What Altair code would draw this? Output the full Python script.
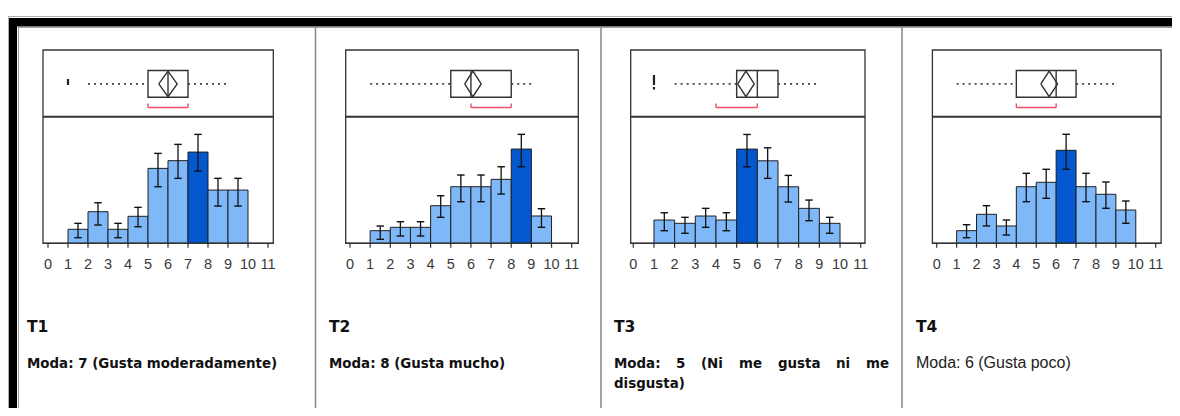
import altair as alt
import pandas as pd

# ---------------- data ----------------
scores = [1, 2, 3, 4, 5, 6, 7, 8, 9]          # histogram bins [k, k+1)
tick_values = list(range(0, 12))

t1_pct = [3.17, 7.15, 3.17, 6.11, 16.96, 18.70, 20.65, 12.05, 12.05]
t1_lo = [1.27, 4.14, 1.27, 3.75, 12.80, 14.70, 16.35, 8.43, 8.43]
t1_hi = [4.52, 9.18, 4.52, 8.14, 20.35, 22.39, 24.65, 14.70, 14.70]

t2_pct = [3.31, 4.20, 4.20, 9.87, 14.86, 14.86, 16.80, 24.75, 7.17]
t2_lo = [1.05, 1.92, 1.92, 6.82, 10.92, 10.92, 12.94, 20.10, 4.20]
t2_hi = [4.54, 5.67, 5.67, 12.49, 17.93, 17.93, 20.10, 28.61, 9.08]

t3_pct = [6.09, 5.23, 7.14, 6.09, 24.66, 21.60, 14.80, 9.15, 5.23]
t3_lo = [3.29, 2.62, 4.18, 3.29, 20.03, 17.00, 10.80, 5.91, 2.62]
t3_hi = [8.00, 6.80, 9.15, 8.00, 28.50, 25.00, 17.78, 11.32, 6.80]

t4_pct = [3.09, 7.10, 4.24, 13.86, 14.94, 22.77, 13.86, 12.00, 8.15]
t4_lo = [1.37, 4.24, 2.03, 10.19, 11.02, 18.12, 10.19, 8.57, 4.90]
t4_hi = [4.55, 9.21, 5.71, 17.14, 18.12, 26.69, 17.14, 15.01, 10.36]

y_max = [28.7, 33.3, 33.2, 31.05]            # per-panel histogram scale top

modes = [7, 8, 5, 6]
q1 = [5, 5, 5, 4]
median = [6, 6, 6, 6]
q3 = [7, 8, 7, 7]
mean = [6.0, 6.1, 5.45, 5.65]
mean_ci = [0.46, 0.41, 0.40, 0.42]
whisker_lo = [2, 1, 2, 1]
whisker_hi = [9, 9, 9, 9]
outlier_value = [1, None, 1, None]
outlier_ties = [1, 0, 2, 0]
shortest_lo = [5, 6, 4, 4]
shortest_hi = [7, 8, 6, 6]

titles = ["T1", "T2", "T3", "T4"]
moda_texts = ["Moda: 7 (Gusta moderadamente)", "Moda: 8 (Gusta mucho)", None, "Moda: 6 (Gusta poco)"]
t3_words = ["Moda:", "5", "(Ni", "me", "gusta", "ni", "me"]
t3_line2 = "disgusta)"

pct = [t1_pct, t2_pct, t3_pct, t4_pct]
lo = [t1_lo, t2_lo, t3_lo, t4_lo]
hi = [t1_hi, t2_hi, t3_hi, t4_hi]

# ---------------- layout (reference pixels) ----------------
OX, OY = 8, 8
X0 = [48, 350, 633.3, 936.7]
X11 = [268, 571.7, 860.7, 1155.7]
FL = [43, 345.7, 630.7, 932.4]
FR = [273.3, 578.3, 865, 1161.1]
Y_FTOP, Y_DIV, Y_BASE = 50, 116.7, 243.3
Y_HTOP = 116.5
BOX_T, BOX_B = 70.5, 97.3
BOX_M = (BOX_T + BOX_B) / 2
BR_Y = 107.5
TEXT_X = [27, 329, 614, 916]
T3_WORD_X = [614, 676, 701, 739, 778, 836, 866]
DIVIDERS = [315.5, 601, 902]

LIGHT = "#7fb8f8"
DARK = "#0358cf"
INK = "#333333"
RED = "#ee4f69"
BOLD_FONT = "DejaVu Sans"
REG_FONT = "Liberation Sans"
TICK_FONT = "Liberation Sans Narrow, Liberation Sans"

one = pd.DataFrame({"k": [0]})


def px_rect(x1, x2, y1, y2, **mk):
    return alt.Chart(one).mark_rect(**mk).encode(
        x=alt.value(x1 - OX), x2=alt.value(x2 - OX),
        y=alt.value(y1 - OY), y2=alt.value(y2 - OY))


def px_hline(x1, x2, y, **mk):
    return alt.Chart(one).mark_rule(**mk).encode(
        x=alt.value(x1 - OX), x2=alt.value(x2 - OX), y=alt.value(y - OY))


def px_vline(x, y1, y2, **mk):
    return alt.Chart(one).mark_rule(**mk).encode(
        x=alt.value(x - OX), y=alt.value(y1 - OY), y2=alt.value(y2 - OY))


def px_text(x, y, txt, **mk):
    d = pd.DataFrame({"t": [txt]})
    return alt.Chart(d).mark_text(align="left", baseline="alphabetic", **mk).encode(
        x=alt.value(x - OX), y=alt.value(y - OY), text="t:N")


layers = []

# ---- table chrome ----
W_END = 1180
layers.append(px_hline(8, W_END, 16.5, color="#b0b0b0", strokeWidth=1))
layers.append(px_rect(9, W_END, 18, 26.5, color="#000000"))
layers.append(px_hline(18, W_END, 27.5, color="#a0a0a0", strokeWidth=1))
layers.append(px_rect(9, 17, 18, 416, color="#000000"))
layers.append(px_vline(8.5, 16.5, 416, color="#b0b0b0", strokeWidth=1))
layers.append(px_vline(18.5, 27.5, 416, color="#a0a0a0", strokeWidth=1))
for dx in DIVIDERS:
    layers.append(px_vline(dx, 27.5, 416, color="#8c8c8c", strokeWidth=1.6))


def panel_layers(i):
    out = []
    xs = alt.Scale(domain=[0, 11], range=[X0[i] - OX, X11[i] - OX], nice=False, zero=False)
    ys = alt.Scale(domain=[0, y_max[i]], range=[Y_BASE - OY, Y_HTOP - OY], nice=False, zero=False)

    hist = pd.DataFrame({
        "lo_x": scores,
        "hi_x": [s + 1 for s in scores],
        "mid": [s + 0.5 for s in scores],
        "pct": pct[i],
        "elo": lo[i],
        "ehi": hi[i],
        "zero": [0] * len(scores),
        "is_mode": [s == modes[i] for s in scores],
    })

    # frame
    out.append(px_rect(FL[i], FR[i], Y_FTOP, Y_BASE, fill="transparent", stroke=INK, strokeWidth=1.3))

    bars = alt.Chart(hist).mark_rect(stroke="#1f1f1f", strokeWidth=1).encode(
        x=alt.X("lo_x:Q", scale=xs, axis=None), x2="hi_x:Q",
        y=alt.Y("pct:Q", scale=ys, axis=None), y2="zero:Q",
        fill=alt.condition("datum.is_mode", alt.value(DARK), alt.value(LIGHT)))
    out.append(bars)

    err = alt.Chart(hist).mark_rule(color="#111111", strokeWidth=1.3).encode(
        x=alt.X("mid:Q", scale=xs, axis=None),
        y=alt.Y("elo:Q", scale=ys, axis=None), y2="ehi:Q")
    out.append(err)
    for f in ["elo", "ehi"]:
        cap = alt.Chart(hist).mark_point(shape="M-1,0L1,0", size=56, filled=False,
                                         color="#111111", strokeWidth=1.4, opacity=1).encode(
            x=alt.X("mid:Q", scale=xs, axis=None),
            y=alt.Y(f + ":Q", scale=ys, axis=None))
        out.append(cap)

    # bottom axis
    out.append(px_hline(FL[i], FR[i], Y_BASE, color=INK, strokeWidth=1.5))
    ticks = pd.DataFrame({"t": tick_values})
    out.append(alt.Chart(ticks).mark_rule(color=INK, strokeWidth=1.2).encode(
        x=alt.X("t:Q", scale=xs, axis=None),
        y=alt.value(Y_BASE - OY), y2=alt.value(Y_BASE + 4.5 - OY)))
    out.append(alt.Chart(ticks).mark_text(font=TICK_FONT, fontSize=14.5, color="#3a3a3a",
                                          baseline="middle", align="center").encode(
        x=alt.X("t:Q", scale=xs, axis=None), y=alt.value(265 - OY), text="t:Q"))

    # box plot panel divider
    out.append(px_hline(FL[i], FR[i], Y_DIV, color=INK, strokeWidth=2))

    st = pd.DataFrame({"q1": [q1[i]], "q3": [q3[i]], "med": [median[i]],
                       "wl": [whisker_lo[i]], "wh": [whisker_hi[i]],
                       "sl": [shortest_lo[i]], "sh": [shortest_hi[i]]})
    base = alt.Chart(st)
    out.append(base.mark_rule(color="#444444", strokeWidth=1.6, strokeDash=[2, 4]).encode(
        x=alt.X("wl:Q", scale=xs, axis=None), x2="q1:Q", y=alt.value(BOX_M - OY)))
    out.append(base.mark_rule(color="#444444", strokeWidth=1.6, strokeDash=[2, 4]).encode(
        x=alt.X("q3:Q", scale=xs, axis=None), x2="wh:Q", y=alt.value(BOX_M - OY)))
    out.append(base.mark_rect(fill="transparent", stroke=INK, strokeWidth=1.4).encode(
        x=alt.X("q1:Q", scale=xs, axis=None), x2="q3:Q",
        y=alt.value(BOX_T - OY), y2=alt.value(BOX_B - OY)))
    out.append(base.mark_rule(color=INK, strokeWidth=1.4).encode(
        x=alt.X("med:Q", scale=xs, axis=None),
        y=alt.value(BOX_T - OY), y2=alt.value(BOX_B - OY)))

    # mean diamond
    m, c = mean[i], mean_ci[i]
    dia = pd.DataFrame({"dx": [m - c, m, m + c, m, m - c], "dy": [0, 1, 0, -1, 0], "o": [0, 1, 2, 3, 4]})
    out.append(alt.Chart(dia).mark_line(color=INK, strokeWidth=1.4).encode(
        x=alt.X("dx:Q", scale=xs, axis=None),
        y=alt.Y("dy:Q", scale=alt.Scale(domain=[-1, 1], range=[BOX_B - 0.6 - OY, BOX_T + 0.6 - OY]), axis=None),
        order="o:Q"))

    # outliers
    if outlier_value[i] is not None:
        od = pd.DataFrame({"v": [outlier_value[i]]})
        if outlier_ties[i] > 1:
            out.append(alt.Chart(od).mark_rule(color="#222222", strokeWidth=2.2).encode(
                x=alt.X("v:Q", scale=xs, axis=None), y=alt.value(75 - OY), y2=alt.value(85 - OY)))
            out.append(alt.Chart(od).mark_rule(color="#222222", strokeWidth=2.2).encode(
                x=alt.X("v:Q", scale=xs, axis=None), y=alt.value(87 - OY), y2=alt.value(89.5 - OY)))
        else:
            out.append(alt.Chart(od).mark_rule(color="#222222", strokeWidth=2.2).encode(
                x=alt.X("v:Q", scale=xs, axis=None), y=alt.value(79 - OY), y2=alt.value(85 - OY)))

    # shortest-half bracket
    out.append(base.mark_rule(color=RED, strokeWidth=1.4).encode(
        x=alt.X("sl:Q", scale=xs, axis=None), x2="sh:Q", y=alt.value(BR_Y - OY)))
    for f in ["sl", "sh"]:
        out.append(base.mark_rule(color=RED, strokeWidth=1.4).encode(
            x=alt.X(f + ":Q", scale=xs, axis=None),
            y=alt.value(BR_Y - 4 - OY), y2=alt.value(BR_Y - OY)))

    # captions
    out.append(px_text(TEXT_X[i], 331.5, titles[i], font=BOLD_FONT, fontWeight="bold", fontSize=15.5, color="#111111"))
    if moda_texts[i] is not None:
        if i == 3:
            out.append(px_text(TEXT_X[i], 368, moda_texts[i], font=REG_FONT, fontSize=16, color="#222222"))
        else:
            out.append(px_text(TEXT_X[i], 368, moda_texts[i], font=BOLD_FONT, fontWeight="bold",
                               fontSize=13.4, color="#111111"))
    else:
        for wx, w in zip(T3_WORD_X, t3_words):
            out.append(px_text(wx, 368, w, font=BOLD_FONT, fontWeight="bold", fontSize=13.4, color="#111111"))
        out.append(px_text(TEXT_X[i], 388, t3_line2, font=BOLD_FONT, fontWeight="bold",
                           fontSize=13.4, color="#111111"))
    return out


for i in range(4):
    layers.extend(panel_layers(i))

chart = alt.layer(*layers).resolve_scale(x="independent", y="independent").properties(
    width=1164, height=400, padding=0,
    autosize=alt.AutoSizeParams(type="none"),
).configure_view(strokeWidth=0)

chart.save("out.html", embed_options={"renderer": "svg", "actions": False})
